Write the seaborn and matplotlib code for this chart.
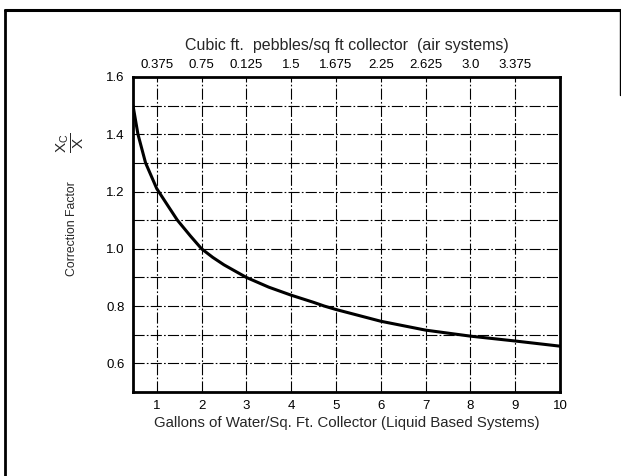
import matplotlib
matplotlib.use("Agg")
import matplotlib.pyplot as plt
from matplotlib.lines import Line2D
import seaborn as sns
import pandas as pd

# Storage correction factor vs. storage volume per collector area
gallons = [0.47, 0.58, 0.75, 1.0, 1.25, 1.46, 1.75, 2.0, 2.25, 2.5, 3.0, 3.5, 4.0, 4.5, 4.74, 5.0, 6.0, 7.0, 8.0, 9.0, 10.0]
factor = [1.50, 1.40, 1.30, 1.21, 1.15, 1.10, 1.045, 1.00, 0.97, 0.944, 0.90, 0.866, 0.838, 0.813, 0.80, 0.788, 0.747, 0.716, 0.695, 0.678, 0.660]

bottom_ticks = [1, 2, 3, 4, 5, 6, 7, 8, 9, 10]
top_ticks = [1, 2, 3, 4, 5, 6, 7, 8, 9]
top_labels = ["0.375", "0.75", "0.125", "1.5", "1.675", "2.25", "2.625", "3.0", "3.375"]
y_ticks = [0.6, 0.8, 1.0, 1.2, 1.4, 1.6]
y_labels = ["0.6", "0.8", "1.0", "1.2", "1.4", "1.6"]
y_grid = [0.6, 0.7, 0.8, 0.9, 1.0, 1.1, 1.2, 1.3, 1.4, 1.5]

sns.set_theme(style="white")
plt.rcParams["font.family"] = ["Liberation Sans", "DejaVu Sans"]
plt.rcParams["mathtext.fontset"] = "custom"
plt.rcParams["mathtext.rm"] = "Liberation Sans"
plt.rcParams["mathtext.it"] = "Liberation Sans"

fig = plt.figure(figsize=(6.21, 4.76), dpi=100)
ax = fig.add_axes([0.2142, 0.1765, 0.6876, 0.6618])

df = pd.DataFrame({"gallons": gallons, "factor": factor})

# grid lines (long dash-dot, as on the printed chart)
dash = (0, (10, 2, 1.5, 2))
for y in y_grid:
    ax.axhline(y, color="black", lw=0.8, ls=dash, zorder=1)
for x in top_ticks:
    ax.axvline(x, color="black", lw=0.8, ls=dash, zorder=1)

sns.lineplot(data=df, x="gallons", y="factor", ax=ax, color="black", lw=2.2, zorder=3)

ax.set_xlim(0.47, 10)
ax.set_ylim(0.5, 1.6)
ax.set_xticks(bottom_ticks)
ax.set_xticklabels([str(t) for t in bottom_ticks])
ax.set_yticks(y_ticks)
ax.set_yticklabels(y_labels)
ax.tick_params(axis="both", length=0, labelsize=9.5, colors="black", pad=6)
ax.set_xlabel("Gallons of Water/Sq. Ft. Collector (Liquid Based Systems)", fontsize=10.8, labelpad=3)
ax.set_ylabel("Correction Factor", fontsize=8.8)
ax.yaxis.set_label_coords(-0.129, 0.52)
for s in ax.spines.values():
    s.set_color("black")
    s.set_linewidth(2.0)

top = ax.twiny()
top.set_xlim(ax.get_xlim())
top.set_xticks(top_ticks)
top.set_xticklabels(top_labels)
top.tick_params(axis="x", length=0, labelsize=9.5, colors="black", pad=4)
top.set_xlabel("Cubic ft.  pebbles/sq ft collector  (air systems)", fontsize=11.5, labelpad=7)
for s in top.spines.values():
    s.set_visible(False)

# ratio symbol beside the y label
fig.text(0.113, 0.70, r"$\dfrac{X_C}{X}$", rotation=90, fontsize=11,
         ha="center", va="center")

# outer frame of the figure panel
fig.add_artist(Line2D([0.008, 1.0], [0.978, 0.978], transform=fig.transFigure, color="black", lw=2.2))
fig.add_artist(Line2D([0.008, 0.008], [0.0, 0.978], transform=fig.transFigure, color="black", lw=2.0))
fig.add_artist(Line2D([0.998, 0.998], [0.80, 0.978], transform=fig.transFigure, color="black", lw=1.0))

fig.savefig("out.png", dpi=100)
